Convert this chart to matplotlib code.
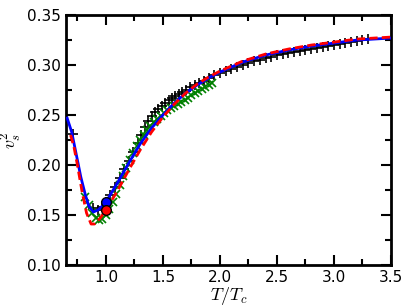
import matplotlib
matplotlib.use("Agg")
import matplotlib.pyplot as plt
from matplotlib.ticker import MultipleLocator, FormatStrFormatter

plt.rcParams['mathtext.fontset'] = 'cm'

# Blue solid curve
blue_T = [0.66, 0.70, 0.75, 0.78, 0.82, 0.85, 0.89, 0.93, 0.96, 1.00, 1.10, 1.20, 1.30, 1.40,
          1.50, 1.60, 1.70, 1.80, 1.90, 2.00, 2.20, 2.40, 2.60, 2.80, 3.00, 3.20, 3.50]
blue_v = [0.247, 0.233, 0.205, 0.188, 0.170, 0.159, 0.153, 0.155, 0.158, 0.163, 0.182, 0.202,
          0.221, 0.237, 0.250, 0.262, 0.272, 0.280, 0.287, 0.293, 0.303, 0.310, 0.315, 0.319,
          0.322, 0.325, 0.327]

# Red dashed curve
red_T = [0.69, 0.72, 0.75, 0.79, 0.83, 0.87, 0.90, 0.95, 1.00, 1.10, 1.20, 1.30, 1.40, 1.50,
         1.60, 1.70, 1.80, 1.90, 2.00, 2.20, 2.40, 2.60, 2.80, 3.00, 3.20, 3.50]
red_v = [0.230, 0.218, 0.200, 0.174, 0.152, 0.141, 0.141, 0.147, 0.155, 0.174, 0.195, 0.215,
         0.233, 0.248, 0.261, 0.272, 0.281, 0.288, 0.294, 0.304, 0.311, 0.316, 0.320, 0.323,
         0.326, 0.328]

# Black plus markers
black_T = [0.715, 0.89, 0.93, 0.97, 1.00, 1.04, 1.08, 1.12, 1.16, 1.20, 1.24, 1.28, 1.31, 1.34,
           1.37, 1.40, 1.43, 1.46, 1.49, 1.52, 1.55, 1.58, 1.61, 1.64, 1.67, 1.70, 1.74, 1.78,
           1.82, 1.86, 1.90, 1.95, 2.00, 2.05, 2.10, 2.15, 2.20, 2.25, 2.30, 2.35, 2.40, 2.45,
           2.50, 2.55, 2.60, 2.65, 2.70, 2.75, 2.80, 2.85, 2.90, 2.95, 3.00, 3.05, 3.10, 3.15,
           3.20, 3.25, 3.30]
black_v = [0.231, 0.157, 0.155, 0.158, 0.163, 0.170, 0.178, 0.187, 0.196, 0.204, 0.213, 0.222,
           0.230, 0.238, 0.244, 0.249, 0.253, 0.256, 0.259, 0.262, 0.265, 0.267, 0.269, 0.271,
           0.273, 0.275, 0.278, 0.280, 0.282, 0.284, 0.287, 0.290, 0.292, 0.294, 0.296, 0.298,
           0.300, 0.302, 0.304, 0.305, 0.307, 0.308, 0.310, 0.311, 0.312, 0.313, 0.314, 0.315,
           0.316, 0.317, 0.318, 0.319, 0.320, 0.321, 0.322, 0.323, 0.324, 0.325, 0.326]

# Green x markers
green_T = [0.82, 0.85, 0.88, 0.91, 0.94, 0.97, 1.00, 1.03, 1.06, 1.09, 1.12, 1.15, 1.18, 1.21,
           1.24, 1.27, 1.30, 1.33, 1.36, 1.39, 1.42, 1.45, 1.48, 1.51, 1.54, 1.57, 1.60, 1.63,
           1.66, 1.69, 1.72, 1.75, 1.78, 1.81, 1.84, 1.87, 1.90, 1.93]
green_v = [0.168, 0.160, 0.152, 0.147, 0.145, 0.146, 0.150, 0.156, 0.163, 0.171, 0.180, 0.189,
           0.197, 0.205, 0.212, 0.219, 0.225, 0.230, 0.235, 0.239, 0.243, 0.246, 0.249, 0.252,
           0.255, 0.257, 0.259, 0.261, 0.263, 0.265, 0.267, 0.270, 0.272, 0.274, 0.276, 0.278,
           0.280, 0.282]

# Points at Tc
blue_pt = (1.0, 0.163)
red_pt = (1.0, 0.155)

fig = plt.figure(figsize=(4.11, 3.08), dpi=100)
ax = fig.add_axes([0.1606, 0.1396, 0.7907, 0.8114])

ax.plot(black_T, black_v, linestyle='none', marker='+', color='black', ms=7, mew=1.2, zorder=2)
ax.plot(green_T, green_v, linestyle='none', marker='x', color='green', ms=6, mew=1.2, zorder=2)
ax.plot(blue_T, blue_v, '-', color='blue', lw=2, zorder=3)
ax.plot(red_T, red_v, '--', color='red', lw=2, dashes=(3, 1.5), zorder=4)
ax.plot([blue_pt[0]], [blue_pt[1]], 'o', color='blue', mec='black', ms=7, zorder=5)
ax.plot([red_pt[0]], [red_pt[1]], 'o', color='red', mec='black', ms=7, zorder=5)

ax.set_xlim(0.65, 3.5)
ax.set_ylim(0.10, 0.35)
ax.xaxis.set_major_locator(MultipleLocator(0.5))
ax.xaxis.set_minor_locator(MultipleLocator(0.25))
ax.yaxis.set_major_locator(MultipleLocator(0.05))
ax.yaxis.set_minor_locator(MultipleLocator(0.025))
ax.xaxis.set_major_formatter(FormatStrFormatter('%.1f'))
ax.yaxis.set_major_formatter(FormatStrFormatter('%.2f'))
ax.tick_params(which='both', direction='in', top=True, right=True, labelsize=11)
ax.tick_params(which='major', length=7, width=1.5)
ax.tick_params(which='minor', length=4, width=1.5)
for s in ax.spines.values():
    s.set_linewidth(2)

ax.set_xlabel('$T/T_c$', fontsize=13, labelpad=0)
ax.set_ylabel('$v_s^2$', fontsize=13, labelpad=2)

fig.savefig('out.png', dpi=100)
